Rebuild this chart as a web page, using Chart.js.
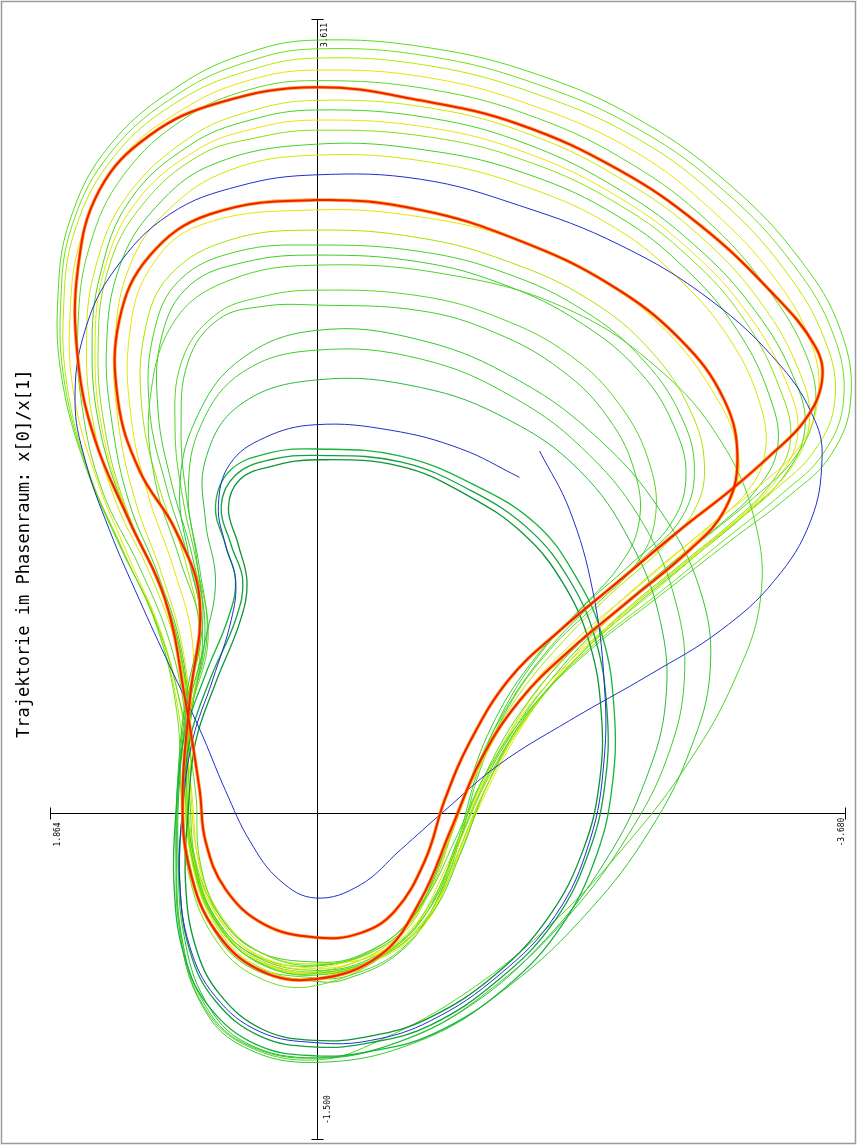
<!DOCTYPE html>
<html>
<head>
<meta charset="utf-8">
<title>Trajektorie im Phasenraum</title>
<script src="https://cdn.jsdelivr.net/npm/chart.js@4.4.1/dist/chart.umd.min.js"></script>
<style>
  html, body { margin: 0; padding: 0; background: #fff; }
  canvas { display: block; }
</style>
</head>
<body>
<canvas id="mycanvas" width="857" height="1145"></canvas>
<script>
// phase space x[1] (horizontal, reversed) / x[0] (vertical), pairs [x1, x0]
const titleText = 'Trajektorie im Phasenraum: x[0]/x[1]';
const xTicks = [1.864, -3.680];
const yTicks = [3.611, -1.500];
const xTickLabels = ['1.864', '-3.680'];
const yTickLabels = ['3.611', '-1.500'];
const axisCross = [0.0, -0.01];

const redOuter = [[0.01,3.30],[-0.72,3.24],[-1.41,3.13],[-2.11,2.92],[-2.67,2.67],[-3.16,2.37],[-3.47,2.12],[-3.52,1.96],[-3.40,1.78],[-3.16,1.62],[-2.88,1.46],[-2.53,1.28],[-2.11,1.05],[-1.69,0.82],[-1.34,0.60],[-1.07,0.32],[-0.89,0.05],[-0.75,-0.23],[-0.54,-0.46],[-0.30,-0.56],[0.01,-0.58],[0.37,-0.52],[0.64,-0.36],[0.78,-0.14],[0.82,0.09],[0.92,0.50],[1.06,0.96],[1.31,1.32],[1.55,1.69],[1.67,2.06],[1.67,2.47],[1.52,2.83],[1.17,3.08],[0.68,3.23],[0.01,3.30]];
const redInner = [[0.01,2.785],[-0.72,2.74],[-1.41,2.60],[-2.04,2.40],[-2.53,2.15],[-2.84,1.87],[-2.93,1.60],[-2.84,1.37],[-2.60,1.19],[-2.18,0.96],[-1.76,0.73],[-1.41,0.50],[-1.14,0.23],[-0.93,-0.09],[-0.72,-0.41],[-0.44,-0.66],[0.01,-0.77],[0.40,-0.73],[0.71,-0.55],[0.89,-0.27],[0.94,0.05],[0.89,0.50],[0.82,0.96],[0.99,1.28],[1.24,1.55],[1.39,1.87],[1.38,2.24],[1.17,2.53],[0.75,2.72],[0.01,2.785]];
const blueOuter = [[0.01,2.90],[-0.72,2.88],[-1.41,2.76],[-2.11,2.58],[-2.74,2.33],[-3.23,2.03],[-3.47,1.78],[-3.52,1.60],[-3.44,1.32],[-3.19,1.05],[-2.81,0.82],[-2.32,0.62],[-1.76,0.41],[-1.27,0.21],[-0.89,0.00],[-0.58,-0.18],[-0.30,-0.34],[0.01,-0.40],[0.26,-0.32],[0.47,-0.14],[0.64,0.09],[0.82,0.37],[1.03,0.66],[1.24,0.96],[1.45,1.28],[1.62,1.60],[1.69,1.87],[1.62,2.19],[1.41,2.47],[1.03,2.72],[0.54,2.85],[0.01,2.90]];
const blueInner = [[-1.55,1.64],[-1.76,1.37],[-1.92,1.005],[-2.00,0.595],[-2.00,0.23],[-1.90,-0.14],[-1.66,-0.48],[-1.27,-0.75],[-0.79,-0.96],[-0.37,-1.05],[0.01,-1.06],[0.40,-1.01],[0.71,-0.85],[0.89,-0.62],[0.96,-0.32],[0.94,0.00],[0.87,0.32],[0.73,0.595],[0.60,0.87],[0.57,1.05],[0.64,1.21],[0.69,1.39],[0.61,1.58],[0.37,1.70],[0.01,1.76],[-0.51,1.735],[-1.00,1.65],[-1.41,1.52]];
const coreA = [[0.01,1.62],[-0.58,1.59],[-1.07,1.46],[-1.48,1.28],[-1.76,1.05],[-1.94,0.78],[-2.02,0.46],[-2.01,0.14],[-1.90,-0.18],[-1.66,-0.50],[-1.27,-0.77],[-0.79,-0.98],[-0.37,-1.06],[0.01,-1.08],[0.40,-1.03],[0.71,-0.87],[0.89,-0.64],[0.96,-0.32],[0.94,0.00],[0.89,0.32],[0.75,0.595],[0.57,0.87],[0.52,1.05],[0.60,1.21],[0.67,1.39],[0.57,1.53],[0.33,1.60],[0.01,1.62]];
const coreB = [[0.01,1.649],[-0.58,1.617],[-1.08,1.49],[-1.52,1.31],[-1.80,1.07],[-1.99,0.79],[-2.07,0.46],[-2.06,0.13],[-1.95,-0.20],[-1.70,-0.53],[-1.31,-0.81],[-0.81,-1.02],[-0.37,-1.10],[0.01,-1.12],[0.42,-1.07],[0.75,-0.90],[0.93,-0.66],[1.00,-0.33],[0.985,0.00],[0.93,0.33],[0.78,0.62],[0.62,0.88],[0.57,1.05],[0.64,1.21],[0.71,1.39],[0.61,1.55],[0.34,1.63],[0.01,1.649]];
const coreC = [[0.01,1.60],[-0.58,1.57],[-1.04,1.44],[-1.44,1.26],[-1.72,1.03],[-1.90,0.76],[-1.98,0.45],[-1.97,0.14],[-1.86,-0.17],[-1.62,-0.48],[-1.24,-0.75],[-0.77,-0.95],[-0.37,-1.03],[0.01,-1.05],[0.38,-1.00],[0.68,-0.84],[0.85,-0.62],[0.92,-0.32],[0.90,0.00],[0.85,0.31],[0.71,0.58],[0.54,0.86],[0.49,1.04],[0.55,1.21],[0.62,1.38],[0.54,1.51],[0.32,1.57],[0.01,1.60]];
const midA = [[0.01,2.19],[-0.72,2.146],[-1.41,1.96],[-1.97,1.69],[-2.39,1.37],[-2.67,1.005],[-2.74,0.64],[-2.60,0.275],[-2.32,-0.09],[-1.90,-0.455],[-1.34,-0.80],[-0.72,-1.05],[0.01,-1.15],[0.54,-1.07],[0.82,-0.87],[0.96,-0.55],[0.985,-0.18],[0.97,0.18],[0.92,0.50],[0.82,0.87],[0.89,1.14],[0.96,1.46],[0.85,1.78],[0.54,2.055],[0.01,2.19]];
const midB = [[0.01,1.964],[-0.72,1.93],[-1.34,1.78],[-1.83,1.55],[-2.18,1.23],[-2.39,0.87],[-2.43,0.50],[-2.29,0.14],[-2.01,-0.23],[-1.59,-0.59],[-1.07,-0.89],[-0.51,-1.07],[0.01,-1.13],[0.50,-1.06],[0.78,-0.87],[0.93,-0.57],[0.97,-0.23],[0.96,0.14],[0.90,0.46],[0.78,0.78],[0.71,1.05],[0.78,1.32],[0.78,1.60],[0.54,1.85],[0.01,1.964]];
const midC = [[0.01,2.10],[-0.72,2.06],[-1.38,1.88],[-1.90,1.62],[-2.28,1.30],[-2.50,0.95],[-2.56,0.60],[-2.44,0.24],[-2.17,-0.11],[-1.78,-0.46],[-1.26,-0.79],[-0.67,-1.03],[0.01,-1.13],[0.52,-1.06],[0.80,-0.87],[0.95,-0.56],[0.98,-0.19],[0.965,0.17],[0.91,0.49],[0.80,0.85],[0.84,1.14],[0.90,1.46],[0.81,1.76],[0.52,2.00],[0.01,2.10]];
const midD = [[0.01,2.488],[-0.93,2.443],[-1.76,2.283],[-2.39,2.009],[-2.81,1.69],[-3.05,1.325],[-3.09,0.96],[-2.91,0.595],[-2.60,0.229],[-2.18,-0.136],[-1.66,-0.501],[-1.065,-0.82],[-0.44,-1.048],[0.01,-1.139],[0.504,-1.071],[0.797,-0.889],[0.943,-0.592],[0.985,-0.227],[0.964,0.138],[0.902,0.503],[0.818,0.823],[0.957,1.142],[1.132,1.507],[1.167,1.872],[0.992,2.237],[0.609,2.42],[0.01,2.488]];
const loopA = [[0.01,3.515],[-0.79,3.479],[-1.55,3.355],[-2.25,3.15],[-2.88,2.853],[-3.37,2.511],[-3.65,2.19],[-3.72,1.87],[-3.58,1.62],[-3.30,1.44],[-2.88,1.23],[-2.39,0.98],[-1.90,0.73],[-1.48,0.46],[-1.17,0.16],[-0.96,-0.136],[-0.75,-0.41],[-0.47,-0.615],[0.01,-0.706],[0.40,-0.647],[0.68,-0.48],[0.82,-0.227],[0.85,0.092],[0.96,0.50],[1.13,0.87],[1.38,1.21],[1.62,1.575],[1.78,1.964],[1.81,2.33],[1.725,2.694],[1.446,3.036],[0.957,3.31],[0.469,3.46],[0.01,3.515]];
const loopJ = [[0.01,3.475],[-0.79,3.44],[-1.55,3.31],[-2.25,3.105],[-2.85,2.82],[-3.32,2.49],[-3.60,2.17],[-3.67,1.87],[-3.53,1.63],[-3.25,1.45],[-2.85,1.24],[-2.38,0.99],[-1.90,0.74],[-1.50,0.47],[-1.21,0.17],[-1.00,-0.125],[-0.81,-0.40],[-0.53,-0.63],[0.01,-0.80],[0.42,-0.76],[0.72,-0.58],[0.90,-0.28],[0.95,0.08],[0.98,0.45],[1.12,0.84],[1.36,1.19],[1.60,1.55],[1.76,1.94],[1.79,2.31],[1.71,2.67],[1.43,3.01],[0.957,3.275],[0.469,3.42],[0.01,3.475]];
const loopB = [[0.01,3.433],[-0.79,3.397],[-1.55,3.264],[-2.25,3.059],[-2.81,2.785],[-3.26,2.466],[-3.54,2.146],[-3.61,1.872],[-3.47,1.644],[-3.19,1.462],[-2.81,1.256],[-2.36,1.005],[-1.90,0.754],[-1.52,0.48],[-1.24,0.184],[-1.03,-0.113],[-0.86,-0.386],[-0.58,-0.615],[0.01,-0.765],[0.43,-0.706],[0.71,-0.523],[0.87,-0.25],[0.92,0.092],[0.97,0.458],[1.11,0.823],[1.34,1.165],[1.585,1.53],[1.74,1.918],[1.77,2.283],[1.69,2.648],[1.41,2.99],[0.957,3.241],[0.469,3.378],[0.01,3.433]];
const loopC = [[0.01,3.378],[-0.79,3.342],[-1.55,3.205],[-2.22,3.004],[-2.75,2.739],[-3.19,2.429],[-3.45,2.123],[-3.49,1.872],[-3.37,1.667],[-3.09,1.484],[-2.70,1.279],[-2.25,1.028],[-1.80,0.777],[-1.41,0.503],[-1.14,0.207],[-0.94,-0.09],[-0.79,-0.364],[-0.52,-0.592],[0.01,-0.72],[0.385,-0.674],[0.665,-0.51],[0.82,-0.263],[0.874,0.07],[0.943,0.435],[1.083,0.80],[1.306,1.142],[1.536,1.507],[1.697,1.895],[1.725,2.26],[1.641,2.625],[1.376,2.968],[0.923,3.205],[0.469,3.333],[0.01,3.378]];
const loopK = [[0.01,3.33],[-0.79,3.29],[-1.53,3.16],[-2.19,2.95],[-2.72,2.69],[-3.14,2.38],[-3.42,2.06],[-3.47,1.82],[-3.33,1.61],[-3.05,1.43],[-2.66,1.22],[-2.22,0.98],[-1.78,0.73],[-1.42,0.45],[-1.16,0.15],[-0.97,-0.15],[-0.80,-0.43],[-0.50,-0.64],[0.01,-0.745],[0.40,-0.70],[0.68,-0.53],[0.84,-0.27],[0.89,0.06],[0.92,0.42],[1.03,0.77],[1.24,1.11],[1.50,1.46],[1.64,1.84],[1.67,2.20],[1.59,2.57],[1.35,2.90],[0.92,3.16],[0.469,3.29],[0.01,3.33]];
const loopL = [[0.01,3.24],[-0.79,3.205],[-1.50,3.08],[-2.15,2.87],[-2.67,2.62],[-3.09,2.32],[-3.37,1.99],[-3.43,1.76],[-3.29,1.55],[-3.01,1.37],[-2.62,1.16],[-2.19,0.93],[-1.76,0.68],[-1.40,0.41],[-1.15,0.11],[-0.97,-0.18],[-0.78,-0.45],[-0.48,-0.64],[0.01,-0.70],[0.39,-0.65],[0.66,-0.49],[0.82,-0.25],[0.88,0.06],[0.89,0.40],[0.98,0.74],[1.16,1.07],[1.40,1.40],[1.56,1.76],[1.61,2.12],[1.55,2.47],[1.33,2.80],[0.89,3.07],[0.469,3.19],[0.01,3.24]];
const loopD = [[0.01,3.196],[-0.79,3.159],[-1.48,3.036],[-2.11,2.831],[-2.63,2.58],[-3.05,2.283],[-3.33,1.964],[-3.40,1.735],[-3.26,1.53],[-2.98,1.347],[-2.60,1.142],[-2.18,0.914],[-1.76,0.663],[-1.41,0.389],[-1.17,0.092],[-0.995,-0.204],[-0.79,-0.478],[-0.47,-0.66],[0.01,-0.752],[0.413,-0.692],[0.692,-0.523],[0.853,-0.272],[0.916,0.047],[0.902,0.389],[0.957,0.731],[1.111,1.051],[1.341,1.37],[1.515,1.735],[1.571,2.101],[1.515,2.443],[1.306,2.785],[0.888,3.036],[0.469,3.15],[0.01,3.196]];
const loopM = [[0.01,3.15],[-0.79,3.115],[-1.48,2.995],[-2.11,2.795],[-2.61,2.55],[-3.01,2.26],[-3.28,1.94],[-3.35,1.71],[-3.21,1.515],[-2.94,1.335],[-2.56,1.13],[-2.14,0.90],[-1.74,0.65],[-1.40,0.375],[-1.16,0.08],[-0.98,-0.215],[-0.77,-0.49],[-0.44,-0.67],[0.01,-0.745],[0.42,-0.68],[0.70,-0.51],[0.86,-0.25],[0.92,0.07],[0.90,0.40],[0.96,0.74],[1.12,1.06],[1.34,1.38],[1.50,1.735],[1.55,2.10],[1.49,2.455],[1.265,2.775],[0.85,3.01],[0.45,3.11],[0.01,3.15]];
const loopE = [[0.01,3.104],[-0.79,3.072],[-1.48,2.958],[-2.11,2.762],[-2.60,2.52],[-2.98,2.237],[-3.23,1.918],[-3.30,1.69],[-3.17,1.498],[-2.91,1.325],[-2.53,1.12],[-2.11,0.891],[-1.73,0.64],[-1.40,0.366],[-1.15,0.07],[-0.96,-0.227],[-0.75,-0.50],[-0.42,-0.674],[0.01,-0.738],[0.434,-0.674],[0.713,-0.50],[0.867,-0.236],[0.923,0.092],[0.902,0.412],[0.971,0.754],[1.132,1.074],[1.341,1.393],[1.48,1.735],[1.529,2.101],[1.46,2.466],[1.222,2.762],[0.818,2.99],[0.434,3.068],[0.01,3.104]];
const loopN = [[0.01,3.04],[-0.79,3.01],[-1.48,2.90],[-2.10,2.71],[-2.57,2.47],[-2.93,2.19],[-3.16,1.88],[-3.21,1.655],[-3.07,1.47],[-2.80,1.30],[-2.42,1.10],[-2.02,0.87],[-1.66,0.62],[-1.35,0.345],[-1.11,0.05],[-0.92,-0.25],[-0.70,-0.52],[-0.36,-0.68],[0.01,-0.73],[0.42,-0.67],[0.70,-0.50],[0.855,-0.235],[0.91,0.09],[0.895,0.41],[0.955,0.755],[1.11,1.075],[1.31,1.40],[1.43,1.76],[1.47,2.12],[1.38,2.48],[1.13,2.75],[0.72,2.95],[0.01,3.04]];
const loopF = [[0.01,2.99],[-0.79,2.958],[-1.48,2.84],[-2.08,2.657],[-2.53,2.42],[-2.88,2.146],[-3.09,1.85],[-3.12,1.621],[-2.98,1.44],[-2.70,1.279],[-2.32,1.074],[-1.94,0.846],[-1.59,0.595],[-1.31,0.321],[-1.08,0.024],[-0.89,-0.272],[-0.65,-0.546],[-0.30,-0.683],[0.01,-0.72],[0.413,-0.66],[0.692,-0.49],[0.846,-0.236],[0.902,0.092],[0.888,0.412],[0.943,0.754],[1.083,1.074],[1.271,1.416],[1.39,1.781],[1.411,2.146],[1.306,2.488],[1.041,2.739],[0.609,2.922],[0.01,2.99]];
const loopO = [[0.01,2.74],[-0.75,2.705],[-1.41,2.60],[-1.99,2.42],[-2.43,2.19],[-2.76,1.91],[-2.93,1.65],[-2.90,1.44],[-2.70,1.27],[-2.37,1.07],[-2.00,0.85],[-1.66,0.60],[-1.37,0.32],[-1.14,0.03],[-0.95,-0.26],[-0.74,-0.53],[-0.42,-0.68],[0.01,-0.745],[0.42,-0.68],[0.70,-0.51],[0.86,-0.245],[0.91,0.08],[0.89,0.41],[0.87,0.765],[1.00,1.10],[1.18,1.44],[1.30,1.80],[1.31,2.17],[1.17,2.47],[0.82,2.67],[0.01,2.74]];
const loopG = [[0.01,2.648],[-0.72,2.612],[-1.34,2.502],[-1.90,2.329],[-2.32,2.101],[-2.60,1.827],[-2.70,1.576],[-2.63,1.37],[-2.39,1.188],[-2.04,0.983],[-1.69,0.754],[-1.38,0.503],[-1.14,0.229],[-0.96,-0.067],[-0.79,-0.364],[-0.54,-0.592],[0.01,-0.738],[0.434,-0.683],[0.713,-0.51],[0.867,-0.25],[0.923,0.07],[0.888,0.412],[0.818,0.777],[0.923,1.142],[1.097,1.462],[1.222,1.827],[1.201,2.192],[1.027,2.443],[0.609,2.603],[0.01,2.648]];
const loopP = [[0.01,2.58],[-0.72,2.55],[-1.32,2.45],[-1.86,2.28],[-2.28,2.05],[-2.55,1.78],[-2.63,1.54],[-2.54,1.335],[-2.28,1.155],[-1.93,0.95],[-1.58,0.71],[-1.30,0.445],[-1.08,0.15],[-0.91,-0.15],[-0.72,-0.43],[-0.42,-0.625],[0.01,-0.71],[0.44,-0.66],[0.71,-0.49],[0.865,-0.23],[0.92,0.09],[0.88,0.435],[0.80,0.80],[0.90,1.15],[1.05,1.47],[1.17,1.83],[1.14,2.18],[0.96,2.42],[0.56,2.55],[0.01,2.58]];
const loopH = [[0.01,2.534],[-0.72,2.502],[-1.31,2.397],[-1.83,2.228],[-2.25,2.0],[-2.50,1.735],[-2.57,1.507],[-2.46,1.302],[-2.18,1.12],[-1.83,0.914],[-1.48,0.663],[-1.22,0.389],[-1.03,0.07],[-0.86,-0.227],[-0.65,-0.50],[-0.30,-0.66],[0.01,-0.692],[0.434,-0.637],[0.699,-0.464],[0.86,-0.204],[0.916,0.115],[0.874,0.458],[0.783,0.823],[0.874,1.165],[1.013,1.484],[1.111,1.827],[1.083,2.169],[0.888,2.397],[0.504,2.502],[0.01,2.534]];
const loopI = [[0.01,2.374],[-0.72,2.347],[-1.27,2.247],[-1.76,2.078],[-2.11,1.85],[-2.32,1.576],[-2.355,1.325],[-2.22,1.12],[-1.94,0.937],[-1.62,0.731],[-1.34,0.48],[-1.135,0.184],[-0.995,-0.136],[-0.82,-0.432],[-0.58,-0.637],[-0.23,-0.752],[0.01,-0.765],[0.455,-0.706],[0.734,-0.523],[0.888,-0.25],[0.936,0.092],[0.888,0.435],[0.762,0.777],[0.832,1.097],[0.936,1.416],[0.992,1.735],[0.943,2.055],[0.713,2.26],[0.399,2.342],[0.01,2.374]];
const loopQ = [[0.01,2.306],[-0.72,2.28],[-1.24,2.18],[-1.70,2.01],[-2.03,1.79],[-2.22,1.53],[-2.24,1.30],[-2.10,1.11],[-1.85,0.93],[-1.56,0.72],[-1.31,0.47],[-1.12,0.18],[-0.98,-0.14],[-0.81,-0.44],[-0.57,-0.65],[-0.20,-0.77],[0.01,-0.78],[0.46,-0.72],[0.74,-0.53],[0.89,-0.26],[0.94,0.09],[0.89,0.44],[0.77,0.79],[0.82,1.10],[0.91,1.42],[0.95,1.74],[0.90,2.05],[0.69,2.24],[0.38,2.30],[0.01,2.306]];

// drawing style per series (index 0 ends up on top)
const series = [
  { data: redOuter, color: '#f02000', width: 2 },
  { data: redInner, color: '#f02000', width: 2 },
  { data: redOuter, color: 'rgba(255,150,0,0.75)', width: 3.6 },
  { data: redInner, color: 'rgba(255,150,0,0.75)', width: 3.6 },
  { data: blueOuter, color: '#2030c8', width: 1 },
  { data: blueInner, color: '#2030c8', width: 1 },
  { data: coreA, color: '#12a040', width: 1.3 },
  { data: coreB, color: '#16b43a', width: 1.3 },
  { data: coreC, color: '#0c9438', width: 1.3 },
  { data: midA, color: '#30c830', width: 1 },
  { data: midB, color: '#26bc38', width: 1 },
  { data: midC, color: '#3ccc2c', width: 1 },
  { data: midD, color: '#52d424', width: 1 },
  { data: loopA, color: '#56dc1c', width: 1 },
  { data: loopJ, color: '#70e018', width: 1 },
  { data: loopB, color: '#b6ea00', width: 1 },
  { data: loopC, color: '#e8e400', width: 1 },
  { data: loopK, color: '#5cd820', width: 1 },
  { data: loopL, color: '#cce800', width: 1 },
  { data: loopD, color: '#46d41e', width: 1 },
  { data: loopM, color: '#e6e60a', width: 1 },
  { data: loopE, color: '#86e010', width: 1 },
  { data: loopN, color: '#40d028', width: 1 },
  { data: loopF, color: '#d6e600', width: 1 },
  { data: loopO, color: '#e8e600', width: 1 },
  { data: loopG, color: '#a8e400', width: 1 },
  { data: loopP, color: '#4ad02a', width: 1 },
  { data: loopH, color: '#3ccc2a', width: 1 },
  { data: loopI, color: '#5ad424', width: 1 },
  { data: loopQ, color: '#44cc2c', width: 1 }
];

const hidden = 'rgba(0,0,0,0)';
const datasets = series.map(function(s, i) {
  let pts = s.data;
  const n = pts.length;
  const closed = pts[0][0] === pts[n - 1][0] && pts[0][1] === pts[n - 1][1];
  // closed loop: wrap one point on each side so the joint stays smooth
  if (closed) pts = [pts[n - 2]].concat(pts, [pts[1]]);
  const last = pts.length - 1;
  return {
    data: pts.map(function(p) { return { x: p[0], y: p[1] }; }),
    borderColor: s.color,
    borderWidth: s.width,
    showLine: true,
    pointRadius: 0,
    tension: 0.4,
    fill: false,
    order: i,
    segment: closed ? {
      borderColor: function(ctx) {
        return (ctx.p0DataIndex === 0 || ctx.p1DataIndex === last) ? hidden : undefined;
      }
    } : undefined
  };
});

const frameAndAxes = {
  id: 'frameAndAxes',
  beforeDatasetsDraw: function(chart) {
    const c = chart.ctx;
    const sx = chart.scales.x, sy = chart.scales.y;
    c.save();
    c.strokeStyle = '#9a9a9a';
    c.lineWidth = 1.5;
    c.strokeRect(1.5, 1.5, chart.width - 3, chart.height - 3);

    const x0 = sx.getPixelForValue(xTicks[0]), x1 = sx.getPixelForValue(xTicks[1]);
    const y0 = sy.getPixelForValue(yTicks[0]), y1 = sy.getPixelForValue(yTicks[1]);
    const cx = Math.round(sx.getPixelForValue(axisCross[0])) + 0.5;
    const cy = Math.round(sy.getPixelForValue(axisCross[1])) + 0.5;
    c.strokeStyle = '#000';
    c.lineWidth = 1;
    c.beginPath();
    c.moveTo(x0, cy); c.lineTo(x1, cy);
    c.moveTo(cx, y0); c.lineTo(cx, y1);
    // end ticks
    [x0, x1].forEach(function(px) { px = Math.round(px) + 0.5; c.moveTo(px, cy - 6); c.lineTo(px, cy + 6); });
    [y0, y1].forEach(function(py) { py = Math.round(py) + 0.5; c.moveTo(cx - 6, py); c.lineTo(cx + 6, py); });
    c.stroke();

    c.fillStyle = '#000';
    c.textBaseline = 'middle';
    c.textAlign = 'left';
    function vtext(str, x, y, size) {
      c.save();
      c.translate(x, y);
      c.rotate(-Math.PI / 2);
      c.font = size + 'px "DejaVu Sans Mono", monospace';
      c.fillText(str, 0, 0);
      c.restore();
    }
    vtext(xTickLabels[0], x0 + 8, cy + 33, 8);
    vtext(xTickLabels[1], x1 - 3, cy + 33, 8);
    vtext(yTickLabels[0], cx + 7, y0 + 28, 8);
    vtext(yTickLabels[1], cx + 10, y1 - 15, 8);
    vtext(titleText, 25, 738, 17);
    c.restore();
  }
};

new Chart(document.getElementById('mycanvas'), {
  type: 'scatter',
  data: { datasets: datasets },
  options: {
    responsive: false,
    devicePixelRatio: 1,
    animation: false,
    layout: { padding: 0 },
    plugins: { legend: { display: false }, tooltip: { enabled: false } },
    scales: {
      x: { type: 'linear', min: -3.764, max: 2.213, reverse: true, display: false },
      y: { type: 'linear', min: -1.527, max: 3.698, display: false }
    }
  },
  plugins: [frameAndAxes]
});
</script>
</body>
</html>
